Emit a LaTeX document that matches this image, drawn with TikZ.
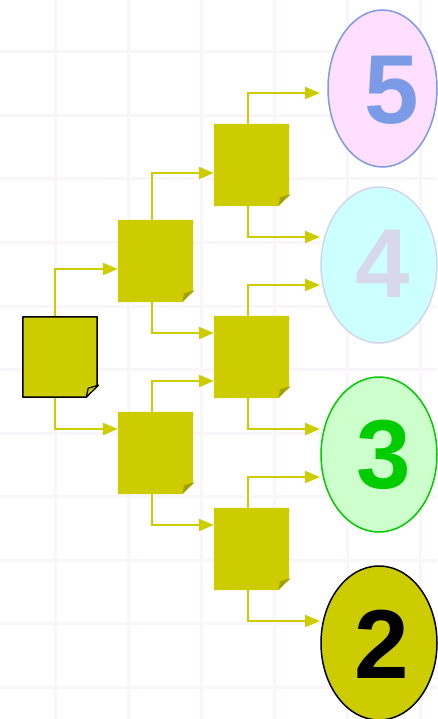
\documentclass[tikz,border=0pt]{standalone}
\usepackage{fontspec}
\setmainfont{Liberation Sans}
\usetikzlibrary{arrows.meta,shapes.geometric,calc}
\definecolor{olive}{RGB}{204,204,0}
\definecolor{flapc}{RGB}{160,160,0}
\definecolor{gridc}{RGB}{250,245,251}
\definecolor{pinkf}{RGB}{255,222,255}
\definecolor{blue5}{RGB}{123,155,230}
\definecolor{cyanf}{RGB}{204,255,255}
\definecolor{lav4}{RGB}{212,212,234}
\definecolor{lav4t}{RGB}{216,216,236}
\definecolor{greenf}{RGB}{204,255,204}
\definecolor{green3}{RGB}{0,204,0}
\newcommand{\foldbox}[2]{%
  \path[#2] (#1.north west) -- (#1.north east) -- ([yshift=12pt]#1.south east) -- ([xshift=-11pt]#1.south east) -- (#1.south west) -- cycle;
}
\newcommand{\foldflap}[2]{%
  \path[#2] ([xshift=1.5pt,yshift=12pt]#1.south east) -- ([xshift=-11pt]#1.south east) -- ([xshift=-9pt,yshift=9pt]#1.south east) -- cycle;
}
\begin{document}
\begin{tikzpicture}[x=1pt,y=-1pt,
  gridline/.style={draw=gridc,line width=3pt},
  boxnode/.style={draw=none,fill=none,inner sep=0pt,minimum width=75pt,minimum height=82pt},
  conn/.style={draw=olive,line width=2pt,-{Triangle[length=15pt,width=12pt]}},
  oval/.style={ellipse,inner sep=0pt,line width=1.5pt},
  digit/.style={font=\fontsize{98}{98}\selectfont\bfseries,inner sep=0pt}]
\useasboundingbox (0,0) rectangle (437,719);
\fill[white] (0,0) rectangle (437,719);
% background grid
\foreach \x in {55,128,201,274,347,420} \draw[gridline] (\x,0) -- (\x,719);
\foreach \y in {52,115.5,179,242.5,306,369.5,433,496.5,560,623.5,687} \draw[gridline] (0,\y) -- (437,\y);
% boxes (named)
\node[boxnode,minimum width=74pt,minimum height=80pt] (root) at (60,357) {};
\node[boxnode] (A) at (155.5,261) {};
\node[boxnode] (B) at (155.5,453) {};
\node[boxnode] (C) at (251.5,165) {};
\node[boxnode] (D) at (251.5,357) {};
\node[boxnode] (E) at (251.5,549) {};
% ovals
\node[oval,draw=blue5,fill=pinkf,minimum width=109pt,minimum height=157pt] (e5) at (382.5,88.5) {};
\node[oval,draw=lav4,fill=cyanf,minimum width=116pt,minimum height=156pt] (e4) at (379,265) {};
\node[oval,draw=green3,fill=greenf,minimum width=116pt,minimum height=155pt] (e3) at (379,454.5) {};
\node[oval,draw=black,fill=olive,minimum width=116pt,minimum height=154pt] (e2) at (379,643) {};
\node[digit,text=blue5] (n5) at (391.5,90) {5};
\node[digit,text=lav4t] (n4) at (382.5,264) {4};
\node[digit,text=green3] (n3) at (383.5,455) {3};
\node[digit,text=black] (n2) at (382,644.5) {2};
% arrow targets near ovals
\coordinate (t5) at (320,93);
\coordinate (t4a) at (320,237);
\coordinate (t4b) at (320,285);
\coordinate (t3a) at (320,429);
\coordinate (t3b) at (320,477);
\coordinate (t2) at (320,621);
% connectors
\draw[conn] ([xshift=-5pt]root.north) |- ([yshift=-8pt]A.west);
\draw[conn] ([xshift=-5pt]root.south) |- ([yshift=24pt]B.west);
\draw[conn] ([xshift=-4pt]A.north) |- ([yshift=-8pt]C.west);
\draw[conn] ([xshift=-4pt]A.south) |- ([yshift=24pt]D.west);
\draw[conn] ([xshift=-4pt]B.north) |- ([yshift=-24pt]D.west);
\draw[conn] ([xshift=-4pt]B.south) |- ([yshift=24pt]E.west);
\draw[conn] ([xshift=-4pt]C.north) |- (t5);
\draw[conn] ([xshift=-4pt]C.south) |- (t4a);
\draw[conn] ([xshift=-4pt]D.north) |- (t4b);
\draw[conn] ([xshift=-4pt]D.south) |- (t3a);
\draw[conn] ([xshift=-4pt]E.north) |- (t3b);
\draw[conn] ([xshift=-4pt]E.south) |- (t2);
% box shapes
\foldbox{root}{fill=olive,draw=black,line width=1.5pt,line join=round}
\foldflap{root}{fill=olive,draw=black,line width=1.2pt,line join=round}
\foreach \n in {A,B,C,D,E} {
  \foldbox{\n}{fill=olive}
  \foldflap{\n}{fill=flapc}
}
\end{tikzpicture}
\end{document}
